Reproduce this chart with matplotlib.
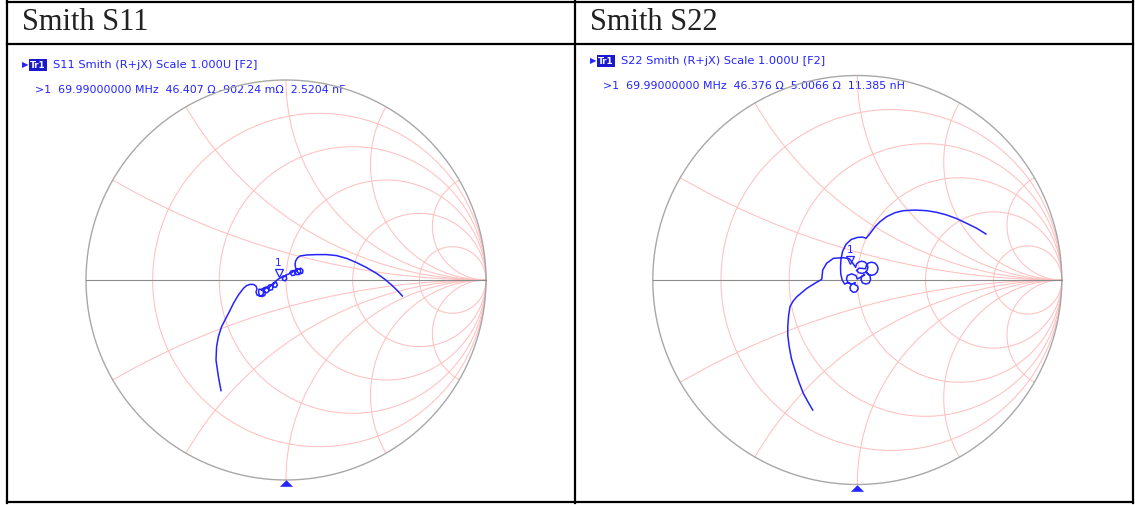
import numpy as np
import matplotlib.pyplot as plt
from matplotlib.transforms import offset_copy

# table header of the two cells
titles = ["Smith S11", "Smith S22"]
trace_names = ["S11", "S22"]

# marker 1 readout shown on each screen
mk_freq = ["69.99000000 MHz", "69.99000000 MHz"]
mk_r = [46.407, 46.376]        # ohm
mk_x = [-0.90224, 5.0066]      # ohm
mk_lc = ["2.5204 nF", "11.385 nH"]
z0 = 50.0

# smith grid (normalised resistance circles / reactance arcs)
r_grid = [0.2, 0.5, 1.0, 2.0, 5.0]
x_grid = [0.268, 0.577, 1.0, 1.732, 3.732]

s11_re = [-0.325, -0.338, -0.350, -0.347, -0.338, -0.322, -0.305, -0.283, -0.263, -0.238,
          -0.213, -0.197, -0.180, -0.163, -0.150,
          -0.145, -0.150, -0.145, -0.130, -0.115, -0.112, -0.120, -0.135,
          -0.137, -0.133, -0.120, -0.106, -0.103, -0.110, -0.124,
          -0.112, -0.100, -0.087, -0.085, -0.095, -0.108, -0.112,
          -0.092, -0.085, -0.072, -0.065, -0.068, -0.080, -0.090,
          -0.068, -0.060, -0.048, -0.043, -0.050, -0.062, -0.066,
          -0.050, -0.038, -0.025,
          -0.015, 0.000, 0.004, -0.004, -0.016, -0.018,
          0.000, 0.015,
          0.025, 0.040, 0.048, 0.043, 0.030, 0.022,
          0.045, 0.055, 0.070, 0.074, 0.066, 0.052, 0.044,
          0.060, 0.075, 0.085, 0.082, 0.068, 0.058,
          0.050, 0.045, 0.048, 0.057, 0.070, 0.103, 0.153, 0.203, 0.253, 0.303,
          0.353, 0.403, 0.453, 0.495, 0.528, 0.557, 0.582]
s11_im = [-0.553, -0.483, -0.400, -0.333, -0.283, -0.233, -0.200, -0.158, -0.117, -0.075,
          -0.042, -0.028, -0.022, -0.022, -0.030,
          -0.045, -0.060, -0.075, -0.081, -0.074, -0.060, -0.047, -0.046,
          -0.062, -0.077, -0.083, -0.077, -0.063, -0.051, -0.050,
          -0.040, -0.035, -0.041, -0.055, -0.064, -0.060, -0.050,
          -0.035, -0.025, -0.024, -0.034, -0.048, -0.051, -0.044,
          -0.020, -0.012, -0.013, -0.025, -0.036, -0.035, -0.026,
          -0.005, 0.005, 0.012,
          0.020, 0.020, 0.006, -0.004, -0.001, 0.010,
          0.025, 0.030,
          0.045, 0.048, 0.037, 0.024, 0.022, 0.032,
          0.048, 0.055, 0.053, 0.040, 0.027, 0.027, 0.038,
          0.055, 0.059, 0.048, 0.034, 0.031, 0.040,
          0.055, 0.075, 0.095, 0.110, 0.120, 0.125, 0.127, 0.127, 0.122, 0.108,
          0.087, 0.062, 0.033, 0.003, -0.025, -0.053, -0.080]

s22_re = [-0.218, -0.240, -0.264, -0.285, -0.305, -0.322, -0.333, -0.340, -0.340, -0.336,
          -0.329, -0.315, -0.296, -0.247, -0.199, -0.174, -0.169, -0.150, -0.117, -0.068,
          -0.040, -0.028,
          -0.008, -0.004, 0.007, 0.022, 0.037, 0.048, 0.052, 0.048, 0.037, 0.022, 0.007, -0.004,
          0.010, 0.040, 0.044, 0.054, 0.070, 0.086, 0.097, 0.102, 0.097, 0.086, 0.070, 0.054, 0.044,
          0.062, 0.065, 0.058, 0.043, 0.025, 0.018, 0.022, 0.036,
          0.010, 0.000, -0.007, -0.028, -0.048, -0.053, -0.046, -0.028, -0.010,
          -0.016, 0.002, 0.004, -0.006, -0.020, -0.033, -0.036, -0.028,
          -0.045, -0.062, -0.074, -0.081, -0.082, -0.080, -0.072, -0.055, -0.030, 0.000, 0.025, 0.043,
          0.059, 0.087, 0.111, 0.144, 0.184, 0.225, 0.282, 0.339, 0.388, 0.437,
          0.486, 0.535, 0.584, 0.629]
s22_im = [-0.636, -0.598, -0.554, -0.500, -0.440, -0.385, -0.326, -0.270, -0.228, -0.175,
          -0.130, -0.105, -0.082, -0.041, -0.011, 0.003, 0.049, 0.082, 0.106, 0.109,
          0.105, 0.090,
          0.062, 0.078, 0.088, 0.092, 0.088, 0.077, 0.062, 0.047, 0.036, 0.032, 0.036, 0.047,
          0.058, 0.055, 0.071, 0.083, 0.087, 0.083, 0.071, 0.055, 0.039, 0.027, 0.023, 0.027, 0.039,
          0.020, 0.002, -0.014, -0.020, -0.014, 0.002, 0.018, 0.026,
          0.010, 0.005, 0.022, 0.030, 0.022, 0.005, -0.013, -0.020, -0.013,
          -0.020, -0.030, -0.045, -0.058, -0.060, -0.050, -0.035, -0.022,
          -0.012, -0.020, 0.000, 0.030, 0.065, 0.100, 0.140, 0.175, 0.198, 0.208, 0.210, 0.204,
          0.223, 0.261, 0.285, 0.310, 0.329, 0.339, 0.342, 0.339, 0.331, 0.318,
          0.300, 0.277, 0.253, 0.225]

traces = [(s11_re, s11_im), (s22_re, s22_im)]

BLUE = "#2424ff"
GRID = "#ffc0c0"
W, H = 1135, 505

fig = plt.figure(figsize=(W / 100, H / 100), dpi=100)

# background axes in pixel units for the table frame and the screen texts
bg = fig.add_axes([0, 0, 1, 1])
bg.set_xlim(0, W)
bg.set_ylim(H, 0)
bg.axis("off")

for y in [1.5, 44, 502]:
    bg.plot([7, 1133], [y, y], color="black", lw=1.6)
for x in [7, 574.5, 1133]:
    bg.plot([x, x], [1, 502.5], color="black", lw=1.6)

# smith chart centres and radii in pixels
centers = [(286, 280), (857.3, 280)]
radii = [200, 204.5]
head_x = [22, 590]
head_y = [65, 61]


def smith_axes(cx, cy, rad):
    half = 1.1 * rad
    ax = fig.add_axes([(cx - half) / W, (H - cy - half) / H, 2 * half / W, 2 * half / H])
    ax.set_xlim(-1.1, 1.1)
    ax.set_ylim(-1.1, 1.1)
    ax.axis("off")
    ax.patch.set_visible(False)
    return ax


def draw_grid(ax):
    t = np.linspace(0, 2 * np.pi, 500)
    for r in r_grid:
        c, rr = r / (1 + r), 1 / (1 + r)
        ax.plot(c + rr * np.cos(t), rr * np.sin(t), color=GRID, lw=0.75, zorder=1)
    for x in x_grid:
        phi = np.mod(np.arctan2((x * x - 1) / x, -2), 2 * np.pi)
        a = np.linspace(phi, 1.5 * np.pi, 300)
        ax.plot(1 + np.cos(a) / x, 1 / x + np.sin(a) / x, color=GRID, lw=0.75, zorder=1)
        ax.plot(1 + np.cos(a) / x, -(1 / x + np.sin(a) / x), color=GRID, lw=0.75, zorder=1)
    ax.plot(np.cos(t), np.sin(t), color="#a8a8a8", lw=1.0, zorder=2)
    ax.plot([-1, 1], [0, 0], color="#8c8c8c", lw=0.8, zorder=2)


for i in range(2):
    cx, cy = centers[i]
    ax = smith_axes(cx, cy, radii[i])
    draw_grid(ax)
    re, im = traces[i]
    ax.plot(re, im, color=BLUE, lw=1.1, zorder=4)

    # marker 1 from the readout
    z = complex(mk_r[i], mk_x[i]) / z0
    g = (z - 1) / (z + 1)
    ax.plot(g.real, g.imag, marker="v", ms=5.5, mfc="none", mec=BLUE, mew=0.9,
            transform=offset_copy(ax.transData, fig=fig, x=0, y=9, units="dots"), zorder=5)
    ax.text(g.real, g.imag, "1", color=BLUE, fontsize=7.5, ha="center", va="center",
            transform=offset_copy(ax.transData, fig=fig, x=0, y=19, units="dots"), zorder=5)

    # stimulus pointer under the circle
    tri = [(-1, -0.5), (1, -0.5), (0, 0.5)]
    ax.plot(0, -1 - 3.4 / radii[i], marker=tri, ms=9.5, color=BLUE, mec="none",
            clip_on=False, zorder=5)

    # cell header
    bg.text(head_x[i], 23, titles[i], fontsize=22, family="Liberation Serif",
            color="#222222", ha="left", va="center")

    # screen annotations
    hx, hy = head_x[i], head_y[i]
    bg.text(hx, hy, "\u25B6", fontsize=6, color=BLUE, ha="left", va="center")
    bg.text(hx + 8, hy, "Tr1", fontsize=6.3, color="white", weight="bold", ha="left", va="center",
            bbox=dict(boxstyle="square,pad=0.12", fc="#1a1acc", ec="none"))
    bg.text(hx + 31, hy, f"{trace_names[i]} Smith (R+jX) Scale 1.000U [F2]",
            fontsize=8.2, color=BLUE, ha="left", va="center")

    xv = mk_x[i]
    if abs(xv) < 1:
        xs = f"{xv * 1000:.2f} m\u03A9"
    else:
        xs = f"{xv:.4f} \u03A9"
    if xv >= 0:
        xs = " " + xs
    line = f">1  {mk_freq[i]}  {mk_r[i]:.3f} \u03A9 {xs}  {mk_lc[i]}"
    bg.text(hx + 13, hy + 25, line, fontsize=7.9, color=BLUE, ha="left", va="center")

fig.savefig("out.png", dpi=100)
